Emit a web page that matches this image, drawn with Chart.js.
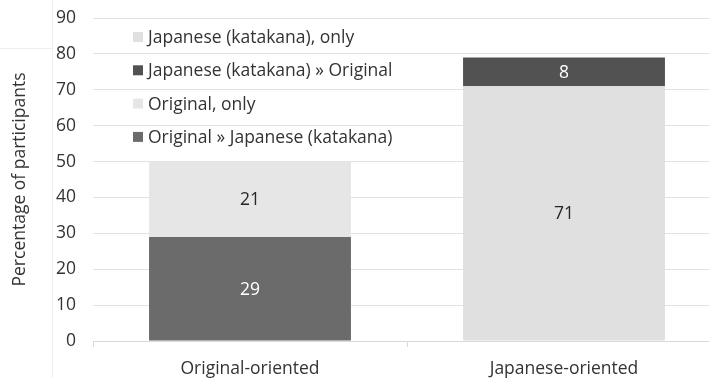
<!DOCTYPE html>
<html>
<head>
<meta charset="utf-8">
<script src="https://cdn.jsdelivr.net/npm/chart.js@4"></script>
<style>
  html, body { margin: 0; padding: 0; background: #fff; overflow: hidden; }
  #wrap { width: 730px; height: 378px; position: relative; }
</style>
</head>
<body>
<div id="wrap"><canvas id="chart"></canvas></div>
<script>
// Data
const categories = ['Original-oriented', 'Japanese-oriented'];
const origToJap = [29, null];
const origOnly = [21, null];
const japOnly = [null, 71];
const japToOrig = [null, 8];
const yTicks = [0, 10, 20, 30, 40, 50, 60, 70, 80, 90];

const FONT = "'Open Sans', 'DejaVu Sans', sans-serif";
const FS = 17.5;
const TEXT = '#333333';

// legend is drawn top to bottom in this order (dataset indexes)
const legendOrder = [2, 3, 1, 0];

// faint frame lines left over in the picture
const framePlugin = {
    id: 'frame',
    beforeDraw(chart) {
        const ctx = chart.ctx;
        ctx.save();
        ctx.strokeStyle = '#efefef';
        ctx.lineWidth = 1;
        ctx.beginPath();
        ctx.moveTo(52.5, 0);
        ctx.lineTo(52.5, 378);
        ctx.moveTo(0, 48.5);
        ctx.lineTo(52, 48.5);
        ctx.stroke();
        ctx.restore();
    }
};

// value labels in the middle of each segment
const valueLabels = {
    id: 'valueLabels',
    afterDatasetsDraw(chart) {
        const ctx = chart.ctx;
        ctx.save();
        ctx.font = FS + 'px ' + FONT;
        ctx.textAlign = 'center';
        ctx.textBaseline = 'middle';
        chart.data.datasets.forEach((ds, i) => {
            const meta = chart.getDatasetMeta(i);
            meta.data.forEach((bar, j) => {
                const v = ds.data[j];
                if (v === null || v === undefined) return;
                ctx.fillStyle = ds.labelColor;
                ctx.fillText(String(v), bar.x, (bar.y + bar.base) / 2 + 1);
            });
        });
        ctx.restore();
    }
};

// legend inside the plot area, top-left
const innerLegend = {
    id: 'innerLegend',
    afterDraw(chart) {
        const ctx = chart.ctx;
        const x0 = 133, y0 = 37, step = 33.3;
        ctx.save();
        ctx.font = FS + 'px ' + FONT;
        ctx.textBaseline = 'middle';
        legendOrder.forEach((idx, k) => {
            const ds = chart.data.datasets[idx];
            const y = y0 + k * step;
            ctx.fillStyle = ds.backgroundColor;
            ctx.fillRect(x0, y - 5, 10, 10);
            ctx.fillStyle = TEXT;
            ctx.fillText(ds.label, x0 + 15, y + 1);
        });
        ctx.restore();
    }
};

new Chart(document.getElementById('chart'), {
    type: 'bar',
    data: {
        labels: categories,
        datasets: [
            { label: 'Original \u00bb Japanese (katakana)', data: origToJap, backgroundColor: '#6b6b6b', labelColor: '#ffffff' },
            { label: 'Original, only', data: origOnly, backgroundColor: '#e6e6e6', labelColor: '#262626' },
            { label: 'Japanese (katakana), only', data: japOnly, backgroundColor: '#e0e0e0', labelColor: '#262626' },
            { label: 'Japanese (katakana) \u00bb Original', data: japToOrig, backgroundColor: '#525252', labelColor: '#ffffff' }
        ]
    },
    options: {
        responsive: true,
        maintainAspectRatio: false,
        animation: false,
        layout: { padding: { top: 18, right: 9, left: 0, bottom: 0 } },
        datasets: {
            bar: { categoryPercentage: 1, barPercentage: 0.643, borderWidth: 0 }
        },
        scales: {
            x: {
                stacked: true,
                afterFit: (s) => { s.height = 37; s.paddingLeft = 0; s.paddingRight = 0; },
                border: { color: '#d9d9d9' },
                grid: { offset: true, drawOnChartArea: false, color: '#d9d9d9', tickLength: 6 },
                ticks: { color: TEXT, font: { family: FONT, size: FS }, padding: 12 }
            },
            y: {
                stacked: true,
                min: 0,
                max: 90,
                afterFit: (s) => { s.width = 93; s.paddingTop = 0; s.paddingBottom = 0; },
                afterBuildTicks: (s) => { s.ticks = yTicks.map(v => ({ value: v })); },
                border: { display: false },
                grid: { color: '#e2e2e2', drawTicks: false },
                ticks: { color: TEXT, font: { family: FONT, size: FS }, padding: 17 },
                title: {
                    display: true,
                    text: 'Percentage of participants',
                    color: TEXT,
                    font: { family: FONT, size: FS },
                    padding: { top: 10, bottom: 0 }
                }
            }
        },
        plugins: {
            legend: { display: false },
            tooltip: { enabled: false }
        }
    },
    plugins: [framePlugin, valueLabels, innerLegend]
});
</script>
</body>
</html>
